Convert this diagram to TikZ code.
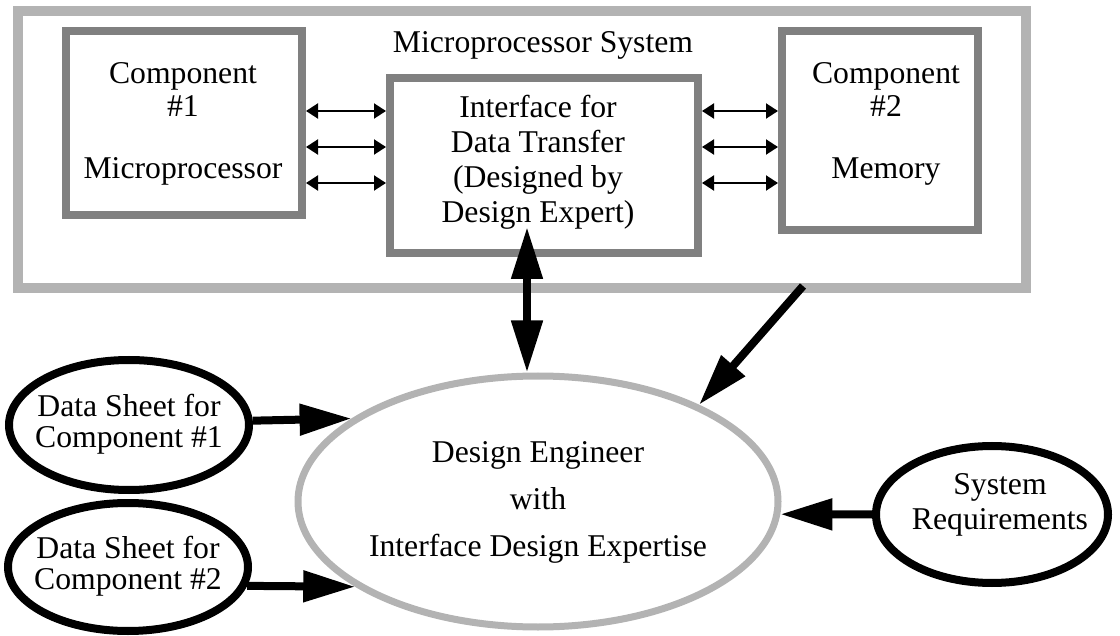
\documentclass[tikz,border=0pt]{standalone}
\usepackage{fontspec}
\setmainfont{Liberation Serif}
\usepackage{tikz}
\usetikzlibrary{arrows.meta,shapes.geometric}
\definecolor{framegray}{HTML}{B3B3B3}
\definecolor{boxgray}{HTML}{808080}
\tikzset{
every node/.style={font={\fontsize{31.7}{33}\selectfont}, inner sep=0}
, sysframe/.style={draw=framegray, line width=10pt, rectangle}
, partbox/.style={draw=boxgray, line width=8pt, rectangle}
, source/.style={draw=black, line width=8pt, ellipse}
, engineer/.style={draw=framegray, line width=7pt, ellipse}
, boxtext/.style={align=center}
, buswire/.style={line width=2pt, {Triangle[length=12pt,width=15pt]}-{Triangle[length=12pt,width=15pt]}}
, bigarrow/.style={line width=8pt, -{Triangle[length=52pt,width=30pt]}}
, bigboth/.style={line width=8pt, {Triangle[length=52pt,width=30pt]}-{Triangle[length=52pt,width=30pt]}}}

\begin{document}
\begin{tikzpicture}[x=1pt, y=-1pt]
\useasboundingbox (0,0) rectangle (1120,636);
% the system frame and its parts
\node[sysframe, minimum width=1008pt, minimum height=277pt] (sys) at (522,149.5) {};
\node[anchor=base] (systitle) at (543,53) {Microprocessor System};
\node[partbox, minimum width=236pt, minimum height=184pt] (comp1) at (184,123) {};
\node[boxtext] (comp1txt) at (183,123.5) {Component\\\#1\\[29pt]Microprocessor};
\node[partbox, minimum width=308pt, minimum height=175pt] (iface) at (544,165.5) {};
\node[boxtext, font={\fontsize{31.7}{35}\selectfont}] (ifacetxt) at (538,162) {Interface for\\Data Transfer\\(Designed by\\Design Expert)};
\node[partbox, minimum width=196pt, minimum height=199pt] (comp2) at (880,130.5) {};
\node[boxtext] (comp2txt) at (886,123.5) {Component\\\#2\\[29pt]Memory};
% engineer and inputs
\node[engineer, minimum width=480pt, minimum height=251pt] (eng) at (538,501.5) {};
\node[boxtext, font={\fontsize{31.7}{47}\selectfont}] (engtxt) at (538,502.5) {Design Engineer\\with\\Interface Design Expertise};
\node[source, minimum width=240pt, minimum height=130pt] (ds1) at (129,425) {};
\node[boxtext, font={\fontsize{31.7}{31}\selectfont}] (ds1txt) at (129,424) {Data Sheet for\\Component \#1};
\node[source, minimum width=240pt, minimum height=128pt] (ds2) at (128,567) {};
\node[boxtext, font={\fontsize{31.7}{31}\selectfont}] (ds2txt) at (128,566) {Data Sheet for\\Component \#2};
\node[source, minimum width=232pt, minimum height=137pt] (req) at (992,514.5) {};
\node[boxtext, font={\fontsize{31.7}{35}\selectfont}] (reqtxt) at (1000,505) {System\\Requirements};
% connectors
\foreach \y in {111,147,183}{
  \draw[buswire] (comp1.east |- 0,\y) -- (iface.west |- 0,\y);
  \draw[buswire] (iface.east |- 0,\y) -- (comp2.west |- 0,\y);
}
\coordinate (ifacein) at (527,227);
\coordinate (sysout) at (803,286);
\draw[bigboth] (ifacein) -- (ifacein |- eng.north);
\draw[bigarrow] (sysout) -- (eng.31);
\draw[bigarrow] (ds1.2) -- (eng.156);
\draw[bigarrow] (ds2.-9) -- (eng.205);
\draw[bigarrow] (req.west) -- (eng.-3);
\end{tikzpicture}
\end{document}
